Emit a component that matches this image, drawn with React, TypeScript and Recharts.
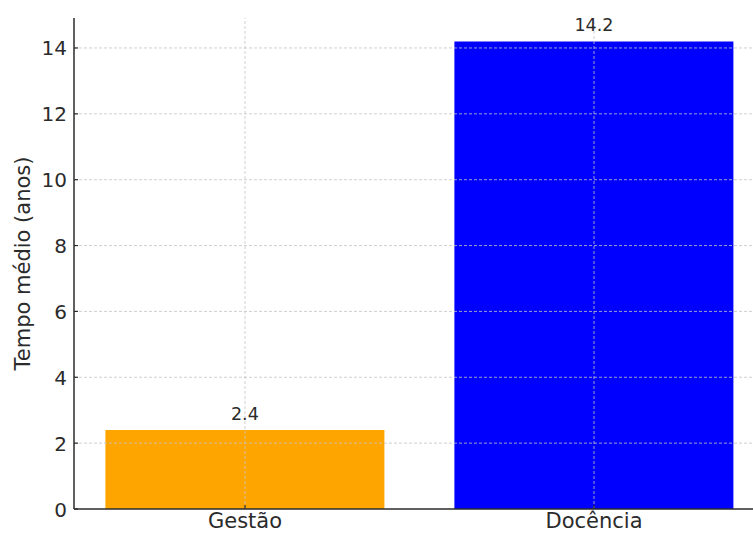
import { BarChart, Bar, XAxis, YAxis, Cell, LabelList, ReferenceLine } from "recharts";

const categorias = ["Gestão", "Docência"];
const tempoMedio = [2.4, 14.2];
const cores = ["#FFA500", "#0000FF"];
const yTicks = [0, 2, 4, 6, 8, 10, 12, 14];

const data = categorias.map((nome, i) => ({ nome, tempo: tempoMedio[i] }));

const FONT = "'DejaVu Sans', sans-serif";
const INK = "#2b2b2b";
const GRID = { stroke: "#c4c4c4", strokeOpacity: 0.8, strokeDasharray: "3 2" };

// ticks point into the plot, like the matplotlib default used here
function YTick(props: any) {
  const { x, y, payload } = props;
  return (
    <g>
      <line x1={x + 7} x2={x + 11} y1={y} y2={y} stroke={INK} strokeWidth={1.2} />
      <text x={x} y={y} dy={7.5} textAnchor="end" fontSize={20} fontFamily={FONT} fill={INK}>
        {payload.value}
      </text>
    </g>
  );
}

function XTick(props: any) {
  const { x, y, payload } = props;
  return (
    <g>
      <line x1={x} x2={x} y1={y - 6} y2={y - 10} stroke={INK} strokeWidth={1.2} />
      <text x={x} y={y + 13} textAnchor="middle" fontSize={21} fontFamily={FONT} fill={INK}>
        {payload.value}
      </text>
    </g>
  );
}

export default function App() {
  return (
    <div style={{ position: "absolute", left: 0, top: 0, width: 753, height: 533, overflow: "hidden", background: "#fff" }}>
      <BarChart
        width={770}
        height={533}
        data={data}
        margin={{ top: 18, right: 5, bottom: 0, left: 0 }}
        barCategoryGap="10%"
      >
        <XAxis
          dataKey="nome"
          padding={{ left: -3.5, right: -3.5 }}
          axisLine={{ stroke: INK, strokeWidth: 1.5 }}
          tickLine={false}
          tickSize={0}
          tickMargin={6}
          height={24}
          tick={<XTick />}
          interval={0}
        />
        <YAxis
          domain={[0, 14.91]}
          ticks={yTicks}
          width={74}
          axisLine={{ stroke: INK, strokeWidth: 1.5 }}
          tickLine={false}
          tickSize={0}
          tickMargin={7}
          tick={<YTick />}
          allowDataOverflow
          label={{
            value: "Tempo médio (anos)",
            angle: -90,
            position: "insideLeft",
            dx: 18,
            dy: 0,
            style: { textAnchor: "middle", fontSize: 21, fontFamily: FONT, fill: INK },
          }}
        />
        <Bar dataKey="tempo" isAnimationActive={false}>
          {data.map((d, i) => (
            <Cell key={d.nome} fill={cores[i]} />
          ))}
          <LabelList
            dataKey="tempo"
            position="top"
            offset={10}
            style={{ fontSize: 17.5, fontFamily: FONT, fill: INK }}
          />
        </Bar>
        {/* dotted grid sits on top of the bars */}
        {yTicks.slice(1).map((v) => (
          <ReferenceLine key={`y${v}`} y={v} {...GRID} />
        ))}
        {categorias.map((c) => (
          <ReferenceLine key={`x${c}`} x={c} {...GRID} />
        ))}
      </BarChart>
    </div>
  );
}
